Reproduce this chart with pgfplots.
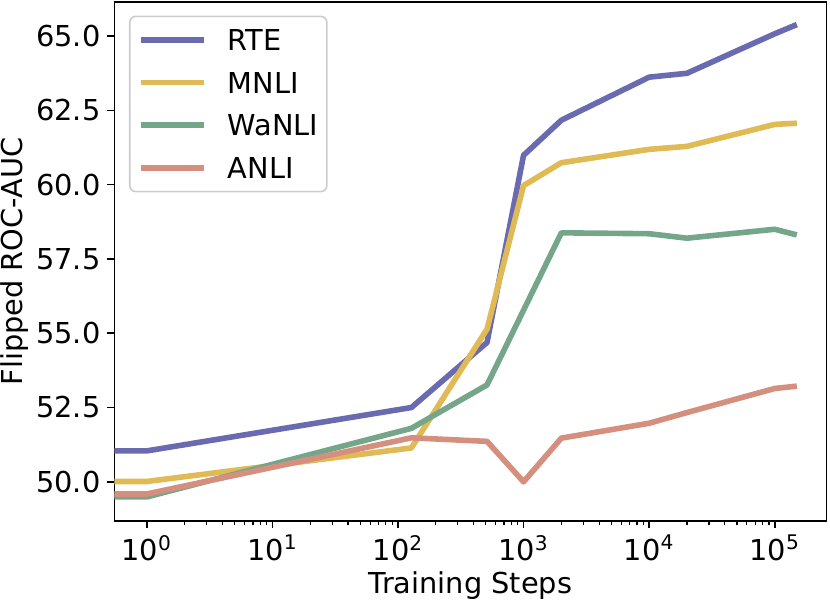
\documentclass[border=0pt]{standalone}
\usepackage{fontspec}
\setmainfont{DejaVu Sans}
\usepackage{pgfplots}
\pgfplotsset{compat=1.18}
\definecolor{cRTE}{HTML}{6A6AB0}
\definecolor{cMNLI}{HTML}{E0BA55}
\definecolor{cWaNLI}{HTML}{76A68A}
\definecolor{cANLI}{HTML}{D48F7F}
\newcommand{\fs}{\fontsize{14.4bp}{17bp}\selectfont}
\begin{document}
\begin{tikzpicture}
\begin{axis}[
  scale only axis, width=356bp, height=259.5bp,
  xmode=log, xmin=0.552, xmax=258000, ymin=48.68, ymax=66.15,
  axis line style={line width=0.8bp, black},
  tick align=outside, xtick pos=bottom, ytick pos=left,
  major tick length=3.5bp, minor tick length=2bp,
  every tick/.style={black, line width=0.8bp},
  minor tick style={line width=0.6bp},
  xtick={1,10,100,1000,10000,100000},
  xticklabels={10\textsuperscript{0},10\textsuperscript{1},10\textsuperscript{2},10\textsuperscript{3},10\textsuperscript{4},10\textsuperscript{5}},
  ytick={50,52.5,55,57.5,60,62.5,65},
  yticklabel style={/pgf/number format/.cd, fixed, fixed zerofill, precision=1, assume math mode=true},
  tick label style={font=\fs},
  xlabel={Training Steps}, ylabel={Flipped ROC-AUC},
  label style={font=\fs},
  xlabel style={at={(axis description cs:0.5,0)}, anchor=base, yshift=-36bp},
  ylabel style={at={(axis description cs:0,0.5)}, anchor=base, yshift=45.7bp},
  legend style={at={(0,1)}, anchor=north west, xshift=7.3bp, yshift=-6.8bp,
    draw=black!20, line width=0.8bp, rounded corners=3bp, fill=white,
    inner xsep=4.35bp, inner ysep=6.6bp, row sep=10.8bp,
    font=\fs,
    nodes={inner xsep=0pt, inner ysep=0pt, text height=10.5bp, text depth=0bp},
    /tikz/every odd column/.append style={column sep=10.35bp}},
  legend cell align=left,
  legend image code/.code={\draw[#1, line cap=butt] (0bp,0bp) -- (31.5bp,0bp);},
  every axis plot/.append style={line width=2.8bp, line join=round},
  clip=true,
]
\addplot[cRTE] coordinates {(0.01,51.04) (1,51.04) (128,52.50) (512,54.69) (1000,60.99) (2000,62.17) (10000,63.62) (20000,63.75) (100000,65.08) (150000,65.39)};
\addlegendentry{RTE}
\addplot[cMNLI] coordinates {(0.01,50.01) (1,50.01) (128,51.14) (512,55.14) (1000,59.97) (2000,60.74) (10000,61.19) (20000,61.29) (100000,62.03) (150000,62.07)};
\addlegendentry{MNLI}
\addplot[cWaNLI] coordinates {(0.01,49.49) (1,49.49) (128,51.80) (512,53.26) (2000,58.38) (10000,58.35) (20000,58.20) (100000,58.50) (150000,58.31)};
\addlegendentry{WaNLI}
\addplot[cANLI] coordinates {(0.01,49.59) (1,49.59) (128,51.48) (512,51.36) (1000,50.00) (2000,51.47) (10000,51.97) (20000,52.33) (100000,53.14) (150000,53.22)};
\addlegendentry{ANLI}
\coordinate (sw) at (rel axis cs:0,0);
\end{axis}
\pgfresetboundingbox
\path (sw) ++(-57.2bp,-39.5bp) rectangle ++(415bp,300bp);
\end{tikzpicture}
\end{document}
